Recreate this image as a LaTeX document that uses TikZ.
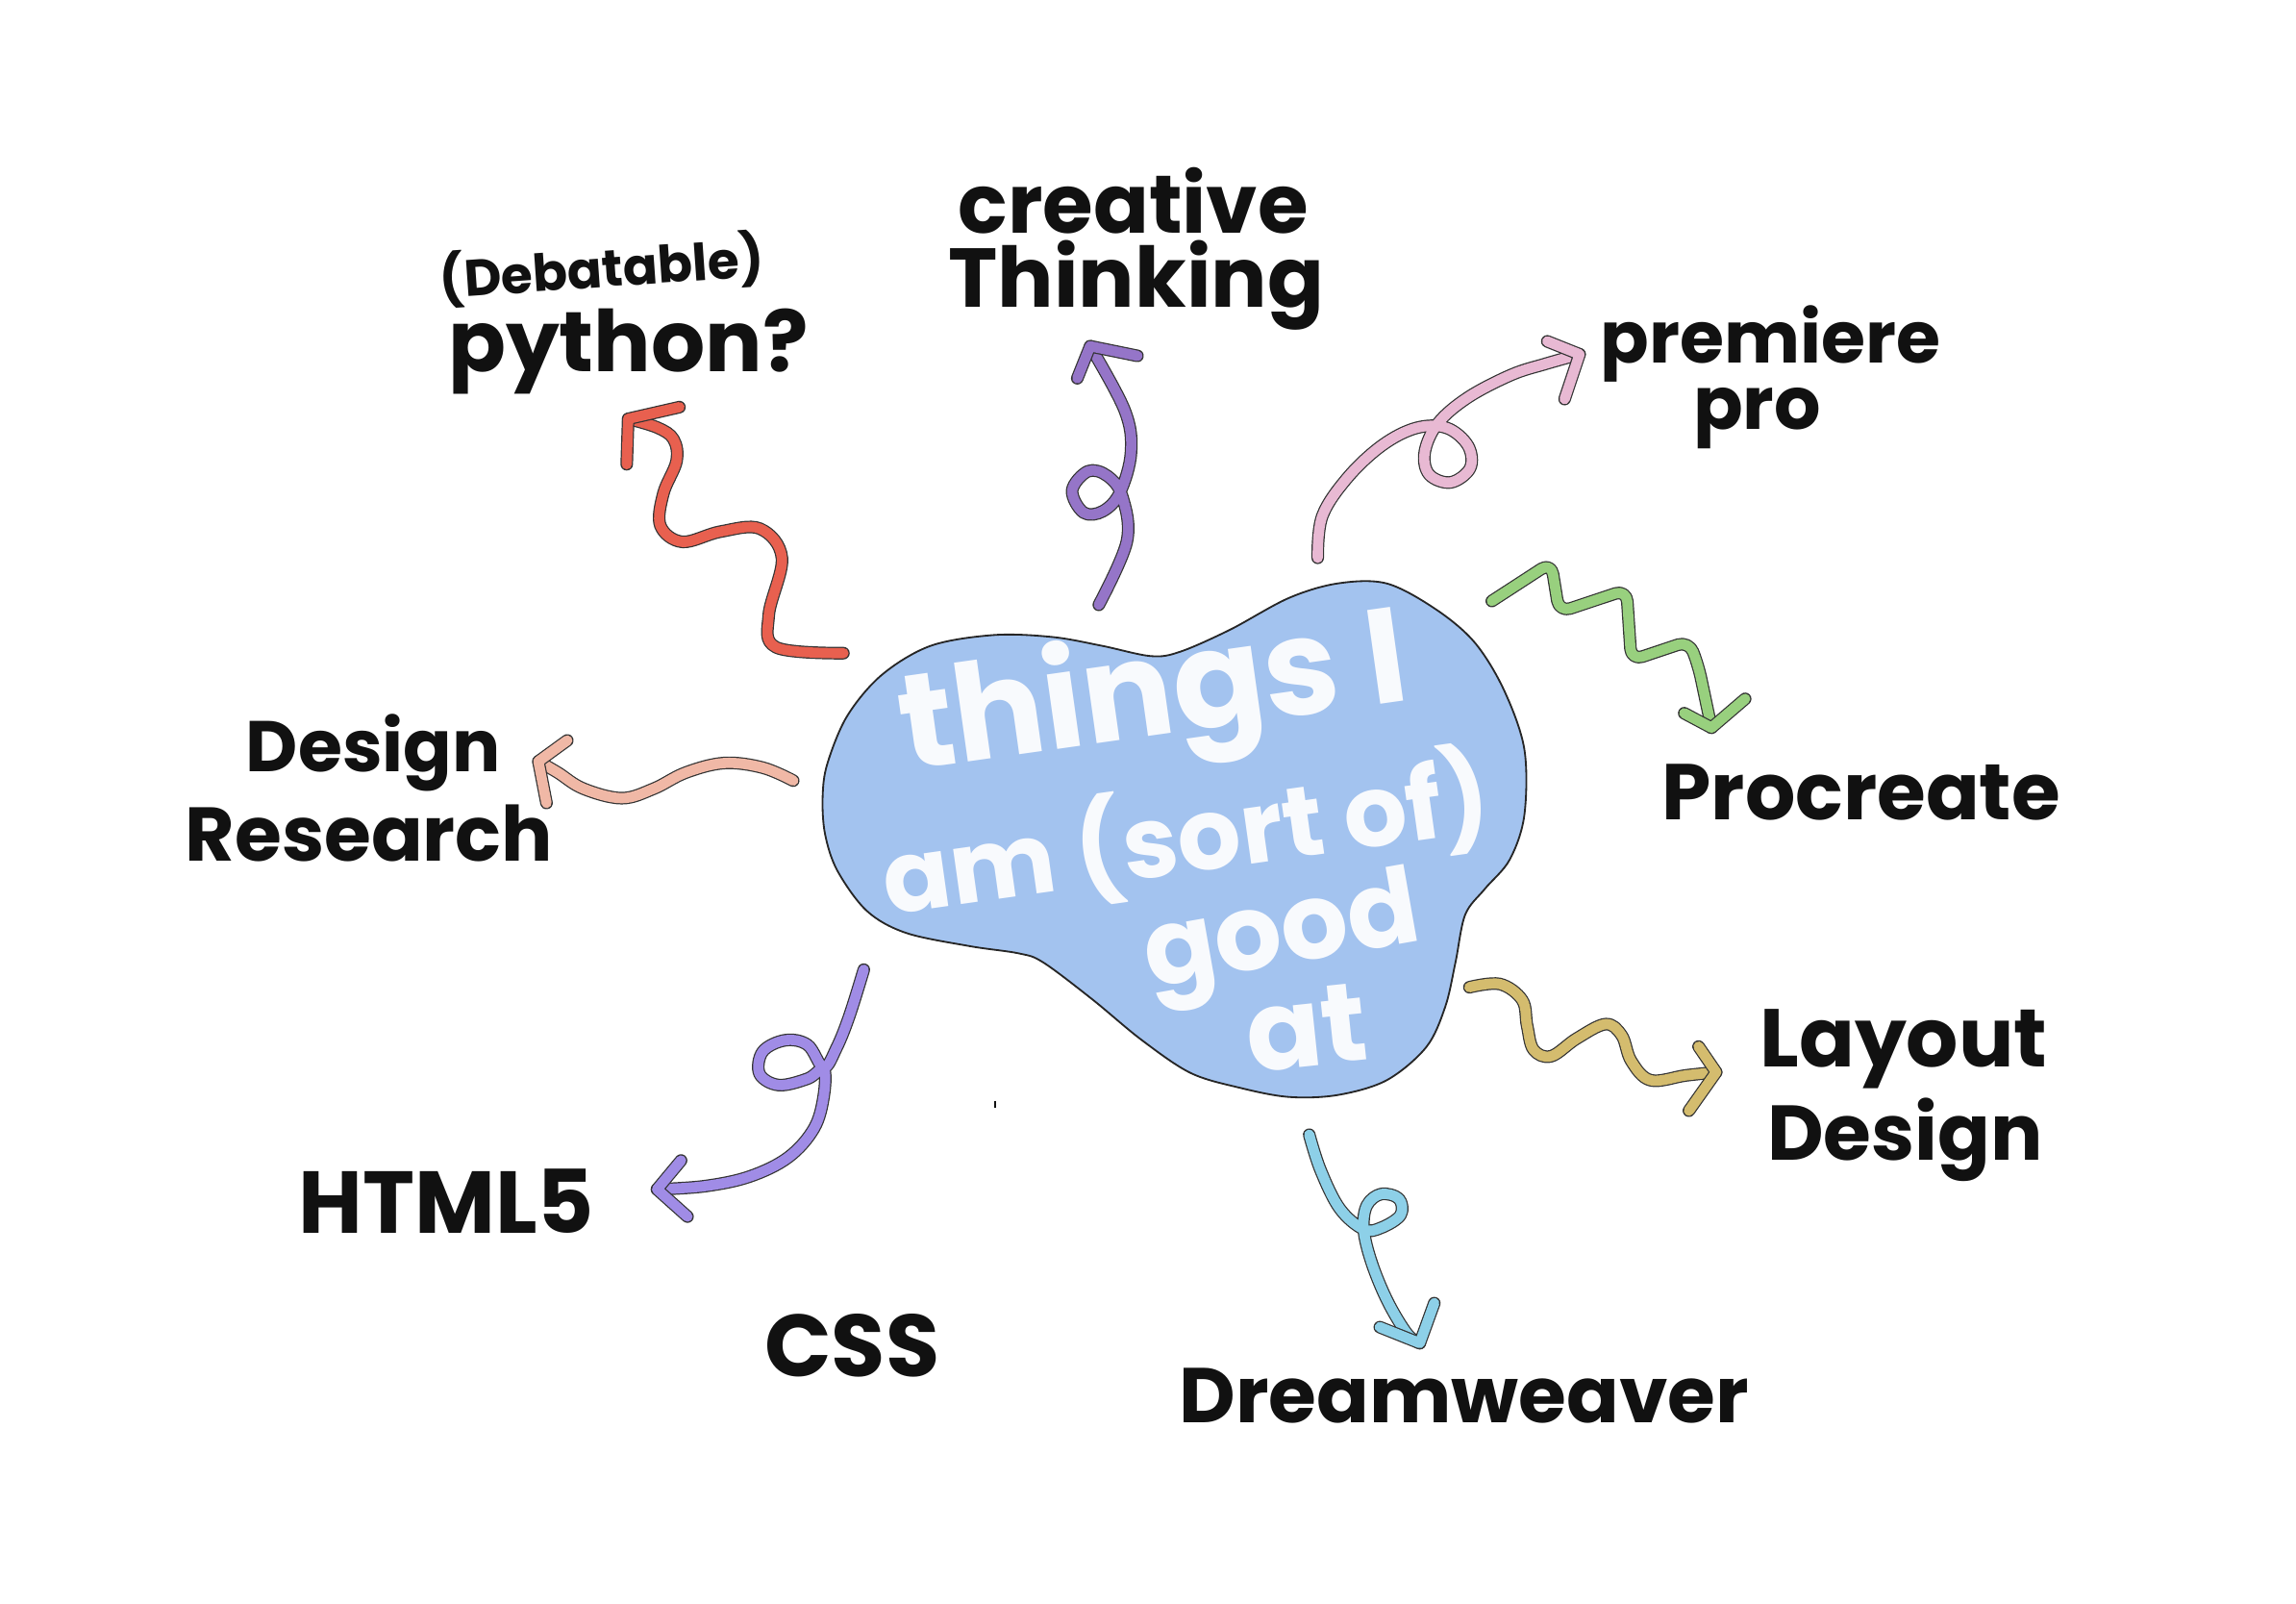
\documentclass[tikz,border=0pt]{standalone}
\usepackage{fontspec}
\setmainfont{Poppins}
\begin{document}
\begin{tikzpicture}[x=0.5pt,y=-0.5pt,
  arr/.style={draw=#1, line width=3.5pt, line cap=round, line join=round,
    preaction={draw=black!80, line width=4.3pt, line cap=round, line join=round}},
  lbl/.style={text=ink, font=\bfseries\fontsize{#1}{#1}\selectfont, inner sep=0pt},
  wtxt/.style={text=blobtext, font=\bfseries\fontsize{#1}{#1}\selectfont, inner sep=0pt}]
\definecolor{ink}{HTML}{111111}
\definecolor{blobfill}{HTML}{A3C3EF}
\definecolor{blobtext}{HTML}{F8FAFD}
\definecolor{cred}{HTML}{E8604F}
\definecolor{cpurple}{HTML}{9575C8}
\definecolor{cpink}{HTML}{E8B9D3}
\definecolor{cgreen}{HTML}{98D07E}
\definecolor{cgold}{HTML}{D4BC6E}
\definecolor{cblue}{HTML}{8DD0E8}
\definecolor{clav}{HTML}{A08CE6}
\definecolor{csalmon}{HTML}{F0B8A6}

\path[use as bounding box, fill=white] (0,0) rectangle (1568,1095);

% central blob
\draw[fill=blobfill, draw=black!85, line width=0.6pt]
  plot[smooth cycle, tension=0.55] coordinates {
  (561.8,544) (565,521.5) (578.5,489) (602,461) (635.5,441) (679,433.6)
  (719,435) (752.7,441) (786,448) (806,445) (840,430) (880,408.4)
  (913.5,398.4) (947,398.4) (980.5,416) (1007,438.6) (1027,471)
  (1041,511.5) (1041,556.7) (1031,587) (1014,607) (1000.6,624.6)
  (994,657) (987,687.4) (974,715) (947,737.6) (913.5,747.7) (880,749)
  (846.5,742.7) (813,732.6) (779.5,710) (746,682.4) (712.5,657.2)
  (695.8,651) (662,646) (618.7,637) (592,622) (571.8,594.4) (563.4,569.3)};

% central text
\node[wtxt=46pt, rotate=8] (t1) at (788,478) {things I};
\node[wtxt=34pt, rotate=8] (t2) at (810,572) {am (sort of)};
\node[wtxt=36pt, rotate=10] (t3) at (876,642) {good};
\node[wtxt=38pt, rotate=6] (t4) at (892,702) {at};

% labels
\node[lbl=28pt] (creative) at (774,137) {creative};
\node[lbl=28.5pt] (thinking) at (776,195) {Thinking};
\node[lbl=17.5pt, rotate=4] (debatable) at (411,184) {(Debatable)};
\node[lbl=29pt] (python) at (429,240) {python?};
\node[lbl=24.5pt] (premiere) at (1209,235) {premiere};
\node[lbl=25pt] (pro) at (1200,286) {pro};
\node[lbl=27pt] (procreate) at (1271,541) {Procreate};
\node[lbl=28pt] (layout) at (1300,716) {Layout};
\node[lbl=26.5pt] (ldesign) at (1301,778) {Design};
\node[lbl=26.5pt] (dreamweaver) at (1000,953) {Dreamweaver};
\node[lbl=30pt] (css) at (582,919) {CSS};
\node[lbl=30pt] (html) at (305,820) {HTML5};
\node[lbl=24.5pt] (ddesign) at (255,514) {Design};
\node[lbl=26pt] (research) at (252,569) {Research};

% small tick mark
\draw[ink, line width=0.9pt] (679.6,751.5) -- (679.6,756.5);

% --- red arrow (python)
\coordinate (redS) at (576,446);
\coordinate (redE) at (429,286);
\draw[arr=cred] plot[smooth, tension=0.6] coordinates {(redS) (530,442) (525,420) (534,381) (519,361) (492,363) (466,370) (451,359) (453,337) (462,315) (460,300) (449,292) (redE)};
\draw[arr=cred] (464,278) -- (redE) -- (428,317);

% --- purple arrow (creative thinking)
\coordinate (purS) at (750.4,413);
\coordinate (purE) at (744.5,236.4);
\draw[arr=cpurple] plot[smooth, tension=0.6] coordinates {(purS) (769.5,370) (766.5,339.3) (756.3,325) (743,321.8) (732.2,334.9) (740,350) (753.3,349) (765,336) (772.4,308.6) (768,280) (purE)};
\draw[arr=cpurple] (776.8,243) -- (purE) -- (735.7,258.3);

% --- pink arrow (premiere pro)
\coordinate (pinkS) at (899.9,380.9);
\coordinate (pinkE) at (1078.7,241.9);
\draw[arr=cpink] plot[smooth, tension=0.6] coordinates {(pinkS) (903,352.4) (920.4,326) (944,304) (967.3,292.2) (988,292.2) (1002.5,304.3) (1004,319.6) (990.7,329.4) (976,324) (973,308.6) (982,289) (1002.5,271.4) (1032,256) (1055.3,248.5) (pinkE)};
\draw[arr=cpink] (1056.7,233.1) -- (pinkE) -- (1068.5,272.5);

% --- green zigzag (procreate)
\coordinate (grS) at (1018.8,410.4);
\coordinate (grE) at (1168.8,496.9);
\draw[arr=cgreen, rounded corners=4pt] (grS) -- (1059.3,384.1) -- (1064.8,418) -- (1110.8,402.7) -- (1114,450.9) -- (1153.5,437.7) -- (1160,455.3) -- (grE);
\draw[arr=cgreen] (1150.2,487) -- (grE) -- (1191.8,477.2);

% --- gold arrow (layout design)
\coordinate (goS) at (1003.5,674.1);
\coordinate (goE) at (1172,732.1);
\draw[arr=cgold] plot[smooth, tension=0.6] coordinates {(goS) (1024.3,671.9) (1039.6,682.9) (1042.9,700.4) (1047.3,716.8) (1059.3,721.2) (1076.8,709.1) (1096.5,699.3) (1107.5,707) (1114,724.5) (1127.2,737.6) (1151.3,734.3) (goE)};
\draw[arr=cgold] (1160,714.6) -- (goE) -- (1153.4,758.4);

% --- blue arrow (dreamweaver)
\coordinate (blS) at (894.1,774.8);
\coordinate (blE) at (969.6,917.1);
\draw[arr=cblue] plot[smooth, tension=0.6] coordinates {(blS) (901.8,798.9) (914.9,825.2) (931.3,839.4) (943.3,838.3) (956.5,829.6) (955.4,818.6) (943.3,815.3) (933.5,823) (931.3,839.4) (936.8,862.4) (947.7,888.7) (960.9,910.6) (blE)};
\draw[arr=cblue] (942.3,906.2) -- (blE) -- (979.5,889.8);

% --- lavender arrow (HTML5)
\coordinate (lvS) at (589.9,662.1);
\coordinate (lvE) at (448.7,812.1);
\draw[arr=clav] plot[smooth, tension=0.6] coordinates {(lvS) (580,693.8) (571.2,715.7) (562.5,728.9) (551.6,713.5) (536.2,710.3) (520.9,718) (518.7,733.2) (531.8,740.9) (551.6,736.5) (562.5,730) (562.5,748.6) (555.9,770.5) (538.4,790.2) (512.1,803.3) (481.5,809.9) (lvE)};
\draw[arr=clav] (465.1,792.4) -- (lvE) -- (469.5,830.7);

% --- salmon arrow (design research)
\coordinate (saS) at (541.7,533);
\coordinate (saE) at (367.7,519.9);
\draw[arr=csalmon] plot[smooth, tension=0.6] coordinates {(saS) (521,524.2) (494.7,521) (468.4,527.5) (446.5,538.5) (424.6,545) (398.4,538.5) (380.9,527.5) (saE)};
\draw[arr=csalmon] (387.4,505.6) -- (saE) -- (373.2,548.3);
\end{tikzpicture}
\end{document}
